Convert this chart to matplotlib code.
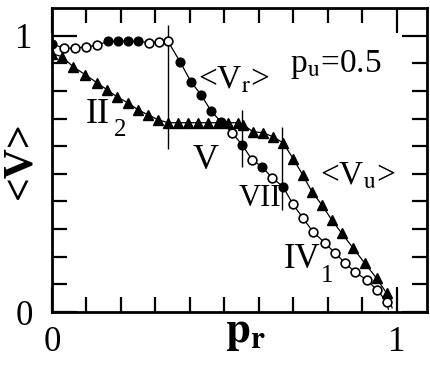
import numpy as np
import matplotlib
matplotlib.use("Agg")
import matplotlib.pyplot as plt

plt.rcParams["font.family"] = ["Liberation Serif", "DejaVu Serif"]
plt.rcParams["mathtext.fontset"] = "stix"

# <V_r> filled circles
vr_x = [0.0, 0.163, 0.19, 0.22, 0.25, 0.371, 0.403, 0.432, 0.461, 0.49, 0.551, 0.609, 0.67]
vr_y = [0.97, 0.98, 0.98, 0.98, 0.98, 0.906, 0.833, 0.786, 0.728, 0.688, 0.605, 0.525, 0.453]
# open circles
vo_x = [0.035, 0.067, 0.098, 0.13, 0.28, 0.31, 0.336, 0.522, 0.58, 0.638,
        0.698, 0.728, 0.756, 0.791, 0.82, 0.849, 0.878, 0.912, 0.942, 0.971]
vo_y = [0.955, 0.955, 0.96, 0.965, 0.975, 0.978, 0.98, 0.649, 0.551, 0.486,
        0.391, 0.339, 0.291, 0.25, 0.214, 0.178, 0.145, 0.116, 0.08, 0.036]
vo_end = (0.975, 0.01)
# <V_u> triangles
vu_x = [0.0, 0.029, 0.061, 0.096, 0.13, 0.16, 0.188, 0.22, 0.249, 0.278, 0.307, 0.336,
        0.365, 0.394, 0.423, 0.452, 0.481, 0.51, 0.54,
        0.554, 0.583, 0.612, 0.641, 0.67,
        0.699, 0.727, 0.753, 0.782, 0.811, 0.84, 0.873, 0.907, 0.941, 0.97]
vu_y = [0.935, 0.924, 0.888, 0.859, 0.83, 0.804, 0.779, 0.757, 0.732, 0.714, 0.696, 0.685,
        0.685, 0.685, 0.685, 0.685, 0.685, 0.685, 0.685,
        0.678, 0.652, 0.649, 0.634, 0.612,
        0.555, 0.496, 0.436, 0.388, 0.333, 0.285, 0.231, 0.176, 0.122, 0.068]
vu_end = (0.986, 0.015)

# phase boundaries
bound_x = [0.336, 0.551, 0.667]
bound_lo = [0.59, 0.525, 0.37]
bound_hi = [1.04, 0.73, 0.67]

fig = plt.figure(figsize=(4.31, 3.65), dpi=100)
ax = fig.add_axes([0.1206, 0.1452, 0.8701, 0.8328])

# line through all circles
cx = np.array(vr_x + vo_x + [vo_end[0]])
cy = np.array(vr_y + vo_y + [vo_end[1]])
order = np.argsort(cx)
ax.plot(cx[order], cy[order], "-", color="k", lw=0.9, zorder=2)
ax.plot(vu_x + [vu_end[0]], vu_y + [vu_end[1]], "-", color="k", lw=0.9, zorder=2)

ax.plot(vu_x, vu_y, "^", color="k", markersize=7.5, zorder=3)
ax.plot(vo_x, vo_y, "o", mfc="white", mec="k", mew=1.2, markersize=6.3, zorder=4)
ax.plot(vr_x, vr_y, "o", color="k", markersize=6.3, zorder=5)

ax.vlines(bound_x, bound_lo, bound_hi, color="k", lw=1.0, zorder=1)

ax.set_xlim(0, 1.087)
ax.set_ylim(0, 1.10)
ax.set_xticks([0, 1])
ax.set_yticks([0, 1])
ax.set_xticks(np.arange(0.1, 1.0, 0.1), minor=True)
ax.set_yticks(np.arange(0.1, 1.0, 0.1), minor=True)
ax.tick_params(which="both", direction="in", top=True, right=True, width=1.6, colors="k")
ax.tick_params(which="major", length=18, labelsize=25, pad=10)
ax.tick_params(which="minor", length=11)
ax.tick_params(axis="y", which="major", pad=14)
for s in ax.spines.values():
    s.set_linewidth(2.0)

ax.set_xlabel(r"$\mathbf{p}_\mathbf{r}$", fontsize=32)
ax.xaxis.set_label_coords(0.517, -0.07)
ax.xaxis.label.set_verticalalignment("center")
ax.set_ylabel("<V>", fontsize=30, fontweight="bold")
ax.yaxis.set_label_coords(-0.085, 0.5)
ax.yaxis.label.set_verticalalignment("center")

ax.text(0.823, 0.895, r"p$_\mathrm{u}$=0.5", fontsize=24, ha="center", va="center")
ax.text(0.528, 0.84, r"<V$_\mathrm{r}$>", fontsize=24, ha="center", va="center")
ax.text(0.887, 0.49, r"<V$_\mathrm{u}$>", fontsize=24, ha="center", va="center")
ax.text(0.134, 0.715, "II", fontsize=26, ha="center", va="center")
ax.text(0.197, 0.66, "2", fontsize=18, ha="center", va="center")
ax.text(0.445, 0.55, "V", fontsize=26, ha="center", va="center")
ax.text(0.603, 0.41, "VII", fontsize=22, ha="center", va="center")
ax.text(0.726, 0.19, "IV", fontsize=25, ha="center", va="center")
ax.text(0.797, 0.13, "1", fontsize=18, ha="center", va="center")

fig.savefig("out.png", dpi=100)
